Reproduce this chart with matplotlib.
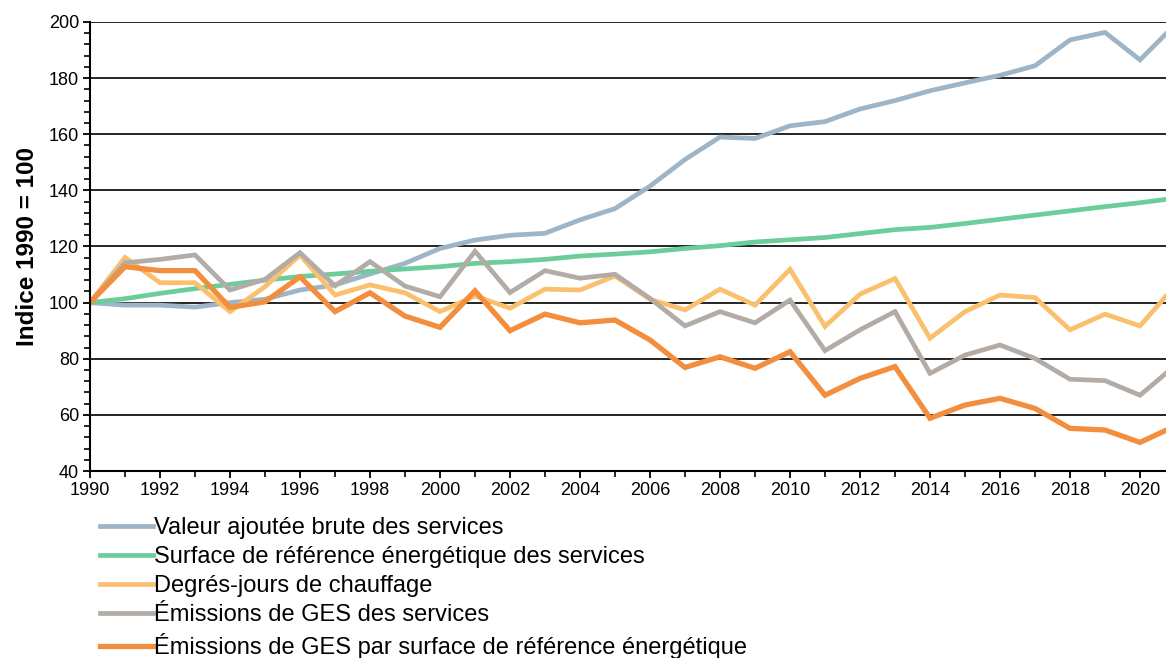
import numpy as np
import matplotlib
matplotlib.use("Agg")
import matplotlib.pyplot as plt
from matplotlib.ticker import MultipleLocator

plt.rcParams['font.family'] = ['Liberation Sans', 'DejaVu Sans']

years = np.arange(1990, 2022)

valeur_ajoutee = [100, 99.1, 99.1, 98.4, 100, 101.2, 104.5, 106.3, 110.2, 114, 119.3, 122.3,
	124, 124.7, 129.5, 133.5, 141.5, 151, 159, 158.5, 163, 164.5, 169, 172, 175.5, 178.3,
	181, 184.4, 193.6, 196.3, 186.5, 199]
surface = [100, 101.4, 103.3, 105, 106.5, 108, 109.3, 110.2, 111.2, 112, 112.8, 114, 114.6,
	115.4, 116.6, 117.3, 118.1, 119.3, 120.3, 121.6, 122.4, 123.2, 124.6, 126, 126.8, 128.2,
	129.7, 131.2, 132.7, 134.2, 135.6, 137.2]
degres_jours = [100, 116.1, 107.1, 107.1, 96.8, 105.7, 117, 102.7, 106.3, 103.5, 96.8, 102.4,
	98, 104.8, 104.5, 109.5, 101.2, 97.4, 104.8, 99.1, 111.9, 91.5, 103, 108.6, 87.3, 96.8,
	102.7, 101.8, 90.3, 95.9, 91.7, 106]
emissions = [100, 114.2, 115.4, 117, 104.5, 108.3, 117.8, 106, 114.6, 105.9, 102.1, 118.3,
	103.6, 111.4, 108.7, 110.1, 101.5, 91.7, 96.8, 92.8, 100.9, 82.9, 90.3, 96.8, 74.8, 81.3,
	84.9, 80.1, 72.7, 72.2, 67, 77.5]
emissions_surface = [100, 112.8, 111.4, 111.4, 98.3, 100.3, 109.2, 96.8, 103.5, 95.2, 91.2,
	104.2, 90, 95.9, 92.8, 93.8, 86.7, 76.9, 80.7, 76.6, 82.5, 67, 73, 77.2, 58.8, 63.5, 65.9,
	62.3, 55.2, 54.6, 50.2, 56]

labels = ["Valeur ajoutée brute des services",
	"Surface de référence énergétique des services",
	"Degrés-jours de chauffage",
	"Émissions de GES des services",
	"Émissions de GES par surface de référence énergétique"]

fig = plt.figure(figsize=(11.66, 6.58), dpi=100)
ax = fig.add_axes([90/1166, 187/658, 1076/1166, 449/658])

ax.plot(years, valeur_ajoutee, color='#9db5c7', lw=3.4, label=labels[0], solid_joinstyle='miter')
ax.plot(years, surface, color='#6ccd9a', lw=3.4, label=labels[1])
ax.plot(years, degres_jours, color='#fac06e', lw=3.4, label=labels[2], solid_joinstyle='miter')
ax.plot(years, emissions, color='#b3aca6', lw=3.4, label=labels[3], solid_joinstyle='miter')
ax.plot(years, emissions_surface, color='#f28e3d', lw=3.8, label=labels[4], solid_joinstyle='miter')

ax.set_xlim(1990, 1990 + 1076/35)
ax.set_ylim(40, 200)
ax.xaxis.set_major_locator(MultipleLocator(2))
ax.xaxis.set_minor_locator(MultipleLocator(1))
ax.yaxis.set_major_locator(MultipleLocator(20))
ax.yaxis.set_minor_locator(MultipleLocator(4))
ax.grid(axis='y', which='major', color='black', lw=1.2, zorder=0)
ax.set_axisbelow(True)

for s in ['top', 'right']:
	ax.spines[s].set_visible(False)
for s in ['left', 'bottom']:
	ax.spines[s].set_linewidth(1.5)
ax.tick_params(axis='both', which='major', direction='out', length=5, width=1.3, labelsize=13, pad=3)
ax.tick_params(axis='both', which='minor', direction='out', length=4, width=1.2)

ax.set_ylabel("Indice 1990 = 100", fontsize=17.5, fontweight='bold', labelpad=7)

fig.legend(loc='upper left', bbox_to_anchor=(100/1166, 1 - 517/658), frameon=False,
	fontsize=17.0, handlelength=2.25, handletextpad=0.05, labelspacing=0.3, borderpad=0,
	borderaxespad=0)

fig.savefig("out.png", dpi=100)
